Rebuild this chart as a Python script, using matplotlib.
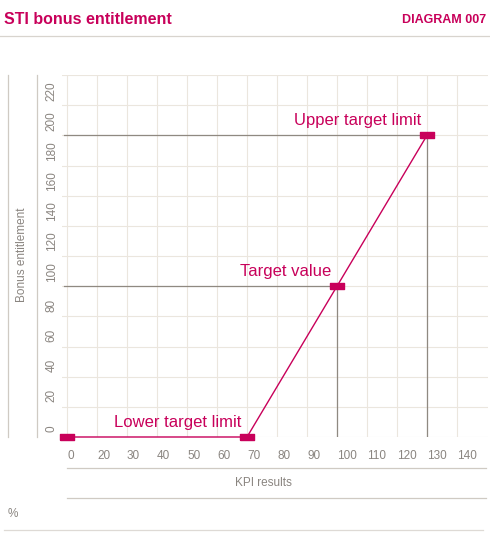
import matplotlib
matplotlib.use("Agg")
import matplotlib.pyplot as plt
from matplotlib.transforms import blended_transform_factory as btf

x_labels = ["0", "20", "30", "40", "50", "60", "70", "80", "90", "100", "110", "120", "130", "140"]
y_labels = ["0", "20", "40", "60", "80", "100", "120", "140", "160", "180", "200", "220"]
kpi = ["0", "70", "100", "130"]
bonus = [0, 0, 100, 200]
point_names = [None, "Lower target limit", "Target value", "Upper target limit"]

MAG = "#c8005a"
GRAY = "#8f8981"
GRID = "#ebe6de"
TXT = "#8a8580"

plt.rcParams['font.family'] = ['Liberation Sans', 'DejaVu Sans']
fig = plt.figure(figsize=(4.9, 5.36), dpi=100)
ax = fig.add_axes([62/490, (536-437)/536, 426/490, 362/536])
ax.set_xlim(-0.167, 14.033)
ax.set_ylim(0, 240)
for i in range(len(x_labels)):
    ax.axvline(i, color=GRID, lw=0.8, zorder=0)
for j in range(13):
    ax.axhline(j*20, color=GRID, lw=0.8, zorder=0)
for s in ax.spines.values():
    s.set_visible(False)
ax.set_xticks([]); ax.set_yticks([])

xs = [x_labels.index(k) for k in kpi]
tb = btf(ax.transData, ax.transAxes)
for i, lab in enumerate(x_labels):
    ax.text(i, -0.035, lab, transform=tb, ha='left', va='top', fontsize=8.5, color=TXT)
tl = btf(ax.transAxes, ax.transData)
for j, lab in enumerate(y_labels):
    ax.text(-0.01, j*20+3, lab, transform=tl, rotation=90, ha='right', va='bottom', fontsize=8.5, color=TXT)

for x, y in zip(xs[2:], bonus[2:]):
    ax.plot([-0.1, x], [y, y], color=GRAY, lw=0.9, zorder=1, clip_on=False)
    ax.plot([x, x], [0, y], color=GRAY, lw=0.9, zorder=1)

ax.plot(xs, bonus, color=MAG, lw=1, zorder=3, clip_on=False)
rect = [(-1, -0.5), (1, -0.5), (1, 0.5), (-1, 0.5), (-1, -0.5)]
ax.plot(xs, bonus, linestyle='none', marker=rect, ms=10, color=MAG, zorder=4, clip_on=False)
for x, y, n in zip(xs, bonus, point_names):
    if n:
        ax.annotate(n, (x, y), xytext=(-4, 5), textcoords='offset points',
                    ha='right', va='bottom', fontsize=12, color=MAG)

# frame elements
fig.text(4/490, 1-20/536, "STI bonus entitlement", fontsize=11.5, fontweight='bold', color=MAG, va='center')
fig.text(486/490, 1-20/536, "DIAGRAM 007", fontsize=9, fontweight='bold', color=MAG, va='center', ha='right')
def hl(y, x0, x1, c="#cfcac3", lw=0.9):
    fig.add_artist(plt.Line2D([x0/490, x1/490], [1-y/536]*2, color=c, lw=lw))
def vl(x, y0, y1, c="#cfcac3", lw=0.9):
    fig.add_artist(plt.Line2D([x/490]*2, [1-y0/536, 1-y1/536], color=c, lw=lw))
hl(36, 0, 490, c="#d8d4ce")
vl(8, 75, 437)
vl(37, 75, 437)
fig.text(22/490, 1-255/536, "Bonus entitlement", rotation=90, fontsize=8.5, color=TXT, ha='center', va='center')
hl(468, 67, 486)
fig.text(263/490, 1-483/536, "KPI results", fontsize=8.5, color=TXT, ha='center', va='center')
hl(498, 67, 486)
fig.text(8/490, 1-514/536, "%", fontsize=8.5, color=TXT, va='center')
hl(530, 4, 483, c="#dedad5")

fig.savefig("out.png", dpi=100)
